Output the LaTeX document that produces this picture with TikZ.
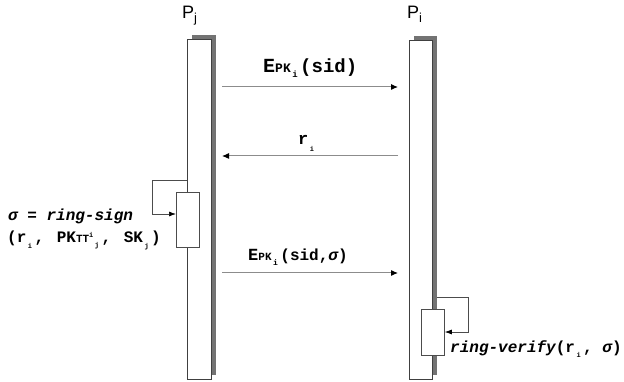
\documentclass[tikz,border=0pt]{standalone}
\usepackage{fontspec}
\setmainfont{Liberation Sans}
\newfontfamily\cour{Liberation Mono}
\usetikzlibrary{arrows.meta}
\newcommand{\lowsub}[2][7]{\kern1.5pt\raisebox{-0.7ex}{\fontsize{#1}{#1}\selectfont #2}\kern2.5pt}
\newcommand{\highsup}[2][7]{\raisebox{0.9ex}{\fontsize{#1}{#1}\selectfont #2}}
\tikzset{
  shadowbox/.style={fill=black!55, draw=none},
  lifebox/.style={fill=white, draw=black!75, line width=0.8pt},
  actbox/.style={fill=white, draw=black!70, line width=0.8pt},
  msg/.style={draw=black!45, line width=1pt, -{Latex[length=7pt,width=6pt,color=black]}},
  loopline/.style={draw=black!70, line width=0.7pt, -{Latex[length=7pt,width=5pt,color=black]}},
  lbl/.style={font=\cour\bfseries, inner sep=0pt, anchor=base},
  head/.style={font=\fontsize{18}{18}\selectfont, inner sep=0pt, anchor=base}
}
\begin{document}
\begin{tikzpicture}[x=1pt,y=-1pt]
\useasboundingbox (0,0) rectangle (624,382);
% shadows
\fill[shadowbox] (192,35) rectangle (216,375);
\fill[shadowbox] (414,36) rectangle (437,375);
% lifelines
\node[lifebox, minimum width=24pt, minimum height=340pt, inner sep=0pt, anchor=north west] (lj) at (187,39) {};
\node[lifebox, minimum width=23pt, minimum height=339pt, inner sep=0pt, anchor=north west] (li) at (409,40) {};
% headers
\node[head, anchor=base west] (pj) at (182,19) {P\raisebox{-0.35ex}{\fontsize{13}{13}\selectfont j}};
\node[head, anchor=base west] (pi) at (407,19) {P\raisebox{-0.35ex}{\fontsize{13}{13}\selectfont i}};
% activation boxes
\node[actbox, minimum width=23pt, minimum height=55pt, inner sep=0pt, anchor=north west] (aj) at (176,192) {};
\node[actbox, minimum width=23pt, minimum height=46pt, inner sep=0pt, anchor=north west] (ai) at (421,309) {};
% self loops
\coordinate (sj) at (lj.north west |- 0,180);
\draw[loopline] (sj) -- (152,180) -- (152,214) -- (aj.west |- 0,214);
\coordinate (si) at (437,297);
\draw[loopline] (si) -- (468,297) -- (468,332) -- (ai.east |- 0,332);
% messages
\coordinate (m1s) at (222,87); \coordinate (m1e) at (398,87);
\draw[msg] (m1s) -- (m1e);
\node[lbl, anchor=base west] (t1) at (263,73) {\fontsize{20}{20}\selectfont E\fontsize{13}{13}\selectfont PK\lowsub[9]{i}\fontsize{19}{19}\selectfont(sid)};
\coordinate (m2s) at (398,156); \coordinate (m2e) at (222,156);
\draw[msg] (m2s) -- (m2e);
\node[lbl, anchor=base west] (t2) at (298,145) {\fontsize{17}{17}\selectfont r\lowsub[7]{i}};
\coordinate (m3s) at (222,273); \coordinate (m3e) at (398,273);
\draw[msg] (m3s) -- (m3e);
\node[lbl, anchor=base west] (t3) at (248,261) {\fontsize{17}{17}\selectfont E\fontsize{11}{11}\selectfont PK\lowsub[8]{i}\fontsize{16}{16}\selectfont(sid,\itshape σ\upshape)};
% ring-sign
\node[lbl, anchor=base west] (rs1) at (8,221) {\fontsize{16}{16}\selectfont\itshape σ = ring-sign};
\node[lbl, anchor=base west] (rs2) at (7,243) {\fontsize{16}{16}\selectfont(r\lowsub[7]{i},\kern3pt{} PK\fontsize{11}{11}\selectfont TT\highsup[7]{i}\lowsub[7]{j}\fontsize{16}{16}\selectfont,\kern3pt{} SK\lowsub[7]{j})};
% ring-verify
\node[lbl, anchor=base west] (rv) at (450,352) {\fontsize{16}{16}\selectfont\itshape ring-verify\upshape(r\lowsub[7]{i}, \itshape σ\upshape)};
\end{tikzpicture}
\end{document}
